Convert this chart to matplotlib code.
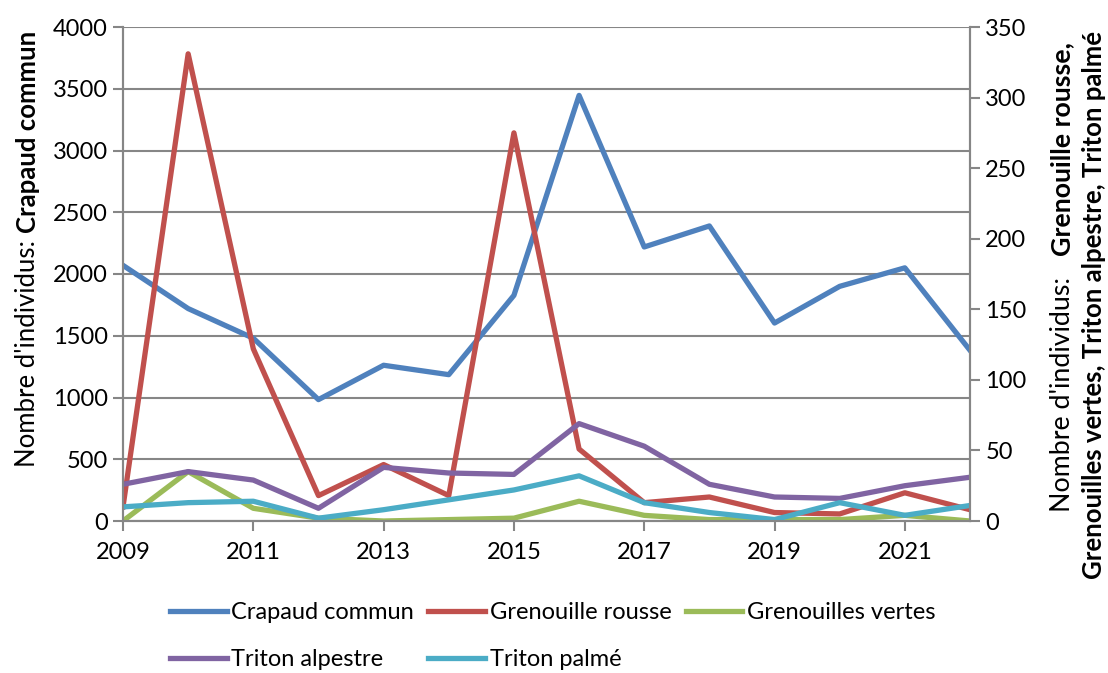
import matplotlib.pyplot as plt
from matplotlib.lines import Line2D

plt.rcParams['font.family'] = ['Lato', 'DejaVu Sans']

years = list(range(2009, 2023))
crapaud_commun = [2070, 1720, 1480, 983, 1261, 1185, 1827, 3446, 2219, 2389, 1603, 1900, 2050, 1382]
grenouille_rousse = [10, 331, 122, 18, 40, 18, 275, 51, 13, 17, 6, 5, 20, 8]
grenouilles_vertes = [0, 35, 9, 2, 0, 1, 2, 14, 4, 1, 1, 1, 4, 0]
triton_alpestre = [26, 35, 29, 9, 38, 34, 33, 69, 53, 26, 17, 16, 25, 31]
triton_palme = [10, 13, 14, 2, 8, 15, 22, 32, 13, 6, 1, 13, 4, 11]

x_ticks = list(range(2009, 2022, 2))
left_ticks = list(range(0, 4001, 500))
right_ticks = list(range(0, 351, 50))

BLUE, RED, GREEN, PURPLE, CYAN = "#4F81BD", "#C0504D", "#9BBB59", "#8064A2", "#4BACC6"
GRID = "#868686"
LW = 3.8
FS = 17
LABEL_FS = 18.5

W, H = 1108, 673
fig = plt.figure(figsize=(W / 100, H / 100), dpi=100)
ax = fig.add_axes([123 / W, 1 - 521 / H, (970 - 123) / W, (521 - 27) / H])
ax2 = ax.twinx()

ax.plot(years, crapaud_commun, color=BLUE, lw=LW, solid_joinstyle="round", zorder=3)
ax2.plot(years, grenouille_rousse, color=RED, lw=LW, solid_joinstyle="round")
ax2.plot(years, grenouilles_vertes, color=GREEN, lw=LW, solid_joinstyle="round")
ax2.plot(years, triton_alpestre, color=PURPLE, lw=LW, solid_joinstyle="round")
ax2.plot(years, triton_palme, color=CYAN, lw=LW, solid_joinstyle="round")

ax.set_xlim(2009, 2022)
ax.set_ylim(0, 4000)
ax2.set_ylim(0, 350)
ax.set_xticks(x_ticks)
ax.set_yticks(left_ticks)
ax2.set_yticks(right_ticks)
ax.grid(axis="y", color=GRID, lw=1.5)
ax.set_axisbelow(True)

for a in (ax, ax2):
    a.spines["top"].set_visible(False)
    for side in ("left", "right", "bottom"):
        a.spines[side].set_color(GRID)
        a.spines[side].set_linewidth(1.5)
ax.tick_params(axis="x", direction="out", length=7, width=1.5, color=GRID, labelsize=FS, pad=8)
ax.tick_params(axis="y", direction="out", length=7, width=1.5, color=GRID, labelsize=FS, pad=4)
ax2.tick_params(axis="y", direction="out", length=7, width=1.5, color=GRID, labelsize=FS, pad=4)

renderer = fig.canvas.get_renderer()


def stacked_label(x, top, parts, size):
    """Draw rotated text pieces from the top downward, each right after the previous."""
    y = top
    for text, weight in parts:
        t = fig.text(x, y, text, rotation=90, ha="center", va="top", fontsize=size, fontweight=weight)
        bb = t.get_window_extent(renderer)
        y = fig.transFigure.inverted().transform((0, bb.y0))[1]


stacked_label(28 / W, 1 - 31 / H, [("Crapaud commun", "bold"), ("Nombre d'individus: ", "normal")], LABEL_FS)
stacked_label(1062 / W, 1 - 42 / H, [("Grenouille rousse,", "bold"), ("Nombre d'individus:   ", "normal")], 19.3)
stacked_label(1094 / W, 1 - 31 / H, [("Grenouilles vertes, Triton alpestre, Triton palmé", "bold")], LABEL_FS)

labels = ["Crapaud commun", "Triton alpestre", "Grenouille rousse", "Triton palmé", "Grenouilles vertes"]
colors = [BLUE, PURPLE, RED, CYAN, GREEN]
handles = [Line2D([], [], color=c, lw=LW) for c in colors]
fig.legend(handles, labels, ncol=3, loc="upper left", bbox_to_anchor=(170 / W, 1 - 602 / H),
           frameon=False, fontsize=FS, handlelength=2.4, handletextpad=0.2, columnspacing=0.6,
           labelspacing=1.1, borderaxespad=0, borderpad=0)

fig.savefig("out.png", dpi=100)
